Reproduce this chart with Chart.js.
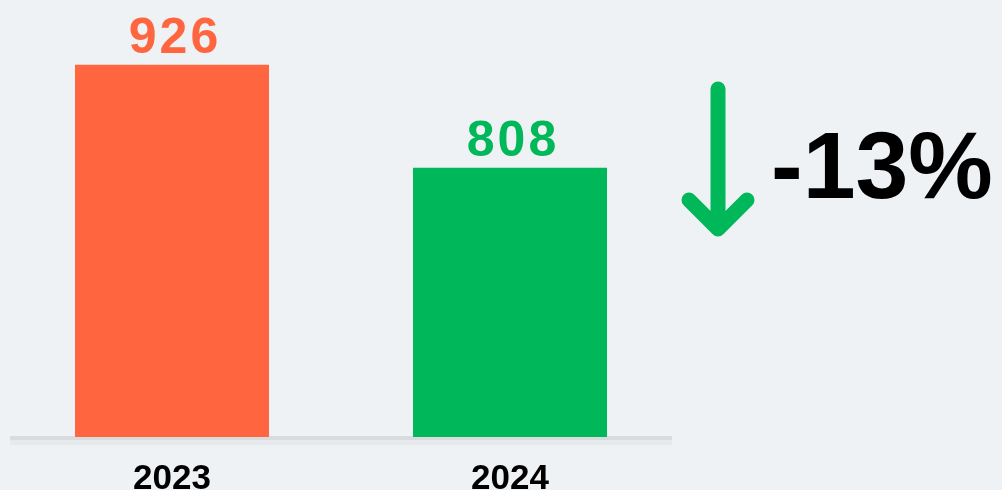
<!DOCTYPE html>
<html>
<head>
<meta charset="utf-8">
<script src="https://cdn.jsdelivr.net/npm/chart.js@4.4.1/dist/chart.umd.min.js"></script>
<style>
  html, body { margin: 0; padding: 0; background: #eef2f5; }
  #wrap { width: 1002px; height: 490px; position: relative; }
</style>
</head>
<body>
<div id="wrap"><canvas id="chart" width="1002" height="490"></canvas></div>
<script>
// data
const years = ["2023", "2024"];
const counts = [926, 808];
const barColors = ["#ff6640", "#00b75a"];
const changeLabel = "-13%";

// baseline under the bars, a little shorter than the chart area
const baseline = {
    id: "baseline",
    beforeDatasetsDraw(chart) {
        const { ctx, chartArea } = chart;
        ctx.save();
        ctx.fillStyle = "rgba(0,0,0,0.03)";
        ctx.fillRect(chartArea.left + 7, chartArea.bottom + 2, chartArea.width - 14, 6);
        ctx.fillStyle = "#d9dbde";
        ctx.fillRect(chartArea.left + 7, chartArea.bottom - 1, chartArea.width - 14, 4);
        ctx.restore();
    }
};

// value labels above each bar
const valueLabels = {
    id: "valueLabels",
    afterDatasetsDraw(chart) {
        const { ctx } = chart;
        const meta = chart.getDatasetMeta(0);
        ctx.save();
        ctx.font = "bold 50px 'Liberation Sans', Arial, sans-serif";
        ctx.letterSpacing = "3px";
        ctx.textAlign = "center";
        ctx.textBaseline = "alphabetic";
        meta.data.forEach((bar, i) => {
            ctx.fillStyle = barColors[i];
            ctx.fillText(String(counts[i]), bar.x + 3, bar.y - 12);
        });
        ctx.restore();
    }
};

// down arrow and percent change to the right of the bars
const changeNote = {
    id: "changeNote",
    afterDraw(chart) {
        const { ctx, chartArea } = chart;
        const x = chartArea.right + 39;
        ctx.save();
        ctx.strokeStyle = "#00b75a";
        ctx.lineWidth = 15;
        ctx.lineCap = "round";
        ctx.lineJoin = "round";
        ctx.beginPath();
        ctx.moveTo(x, 89);
        ctx.lineTo(x, 228);
        ctx.moveTo(x - 29, 200);
        ctx.lineTo(x, 229);
        ctx.lineTo(x + 29, 200);
        ctx.stroke();

        ctx.fillStyle = "#000";
        ctx.font = "bold 95px 'Liberation Sans', Arial, sans-serif";
        ctx.textAlign = "left";
        ctx.textBaseline = "alphabetic";
        ctx.fillText(changeLabel, x + 53, 198);
        ctx.restore();
    }
};

new Chart(document.getElementById("chart"), {
    type: "bar",
    data: {
        labels: years,
        datasets: [{
            data: counts,
            backgroundColor: barColors,
            borderWidth: 0,
            barPercentage: 0.574,
            categoryPercentage: 1
        }]
    },
    options: {
        responsive: false,
        animation: false,
        layout: { padding: { left: 3, right: 323, top: 0, bottom: 0 } },
        plugins: {
            legend: { display: false },
            tooltip: { enabled: false }
        },
        scales: {
            x: {
                grid: { display: false },
                border: { display: false },
                ticks: {
                    color: "#000",
                    font: { family: "'Liberation Sans', Arial, sans-serif", size: 35, weight: "bold" },
                    padding: 13
                },
                afterFit(scale) { scale.height = 53; }
            },
            y: {
                display: false,
                min: 500,
                max: 1000
            }
        }
    },
    plugins: [baseline, valueLabels, changeNote]
});
</script>
</body>
</html>
